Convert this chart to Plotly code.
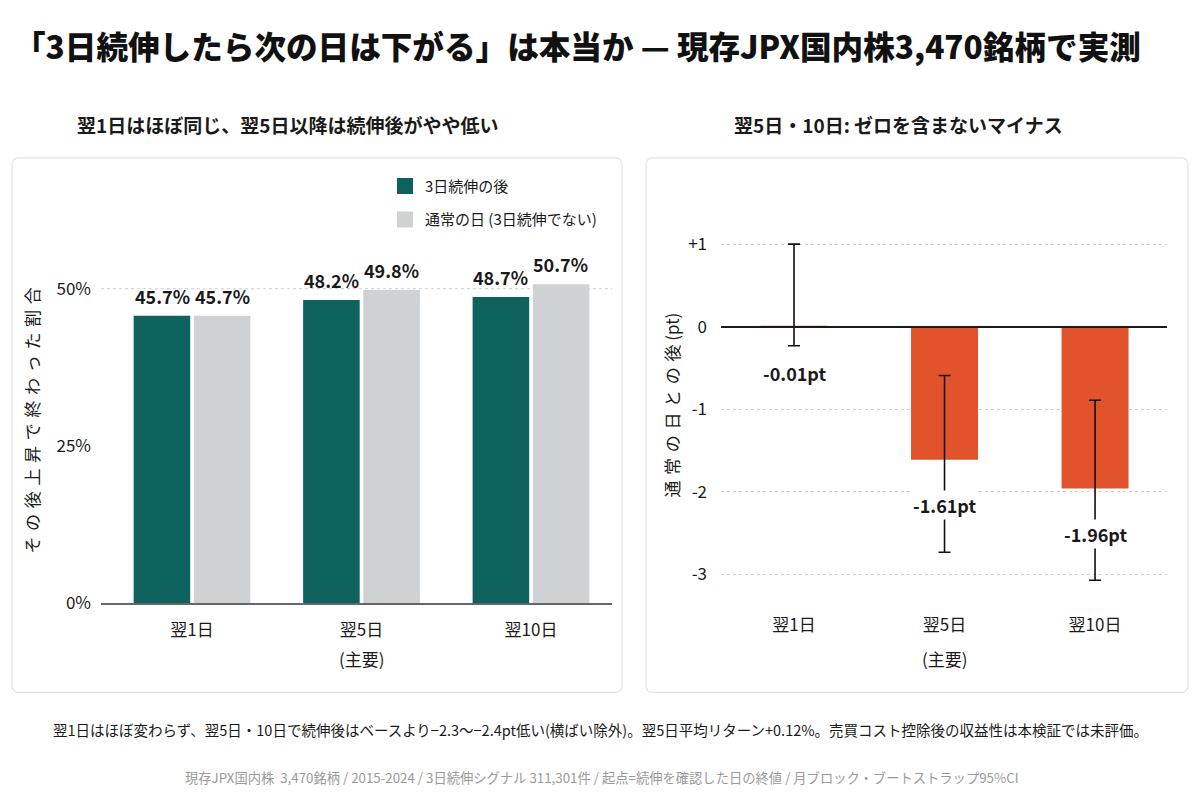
import plotly.graph_objects as go

W, H = 1200, 800
K = 1.013  # vertical calibration

# ---------------- data ----------------
categories = ["翌1日", "翌5日", "翌10日"]
streak_rate = [45.7, 48.2, 48.7]      # 3日続伸の後
normal_rate = [45.7, 49.8, 50.7]      # 通常の日
diff_pt = [-0.01, -1.61, -1.96]       # 差 (pt)
ci_low = [-0.23, -2.73, -3.07]
ci_high = [1.00, -0.59, -0.89]
left_tickvals = [0, 25, 50]
left_ticktext = ["0%", "25%", "50%"]
right_tickvals = [1, 0, -1, -2, -3]
right_ticktext = ["+1", "0", "-1", "-2", "-3"]

FONT = "Noto Sans CJK JP"
TEAL = "#0d625e"
GRAY = "#cfd2d4"
ORANGE = "#e2532b"
INK = "#1a1a1a"


def px(x):
    return x / W


def py(y):
    return 1 - K * y / H


def rounded_rect(x0, y0, x1, y1, r):
    rx, ry = r / W, r / H
    X0, X1 = px(x0), px(x1)
    Y0, Y1 = py(y0), py(y1)
    return (
        f"M {X0+rx},{Y0} L {X1-rx},{Y0} Q {X1},{Y0} {X1},{Y0-ry} "
        f"L {X1},{Y1+ry} Q {X1},{Y1} {X1-rx},{Y1} "
        f"L {X0+rx},{Y1} Q {X0},{Y1} {X0},{Y1+ry} "
        f"L {X0},{Y0-ry} Q {X0},{Y0} {X0+rx},{Y0} Z"
    )


fig = go.Figure()

fig.add_trace(go.Bar(
    x=categories, y=streak_rate, name="3日続伸の後",
    marker=dict(color=TEAL, line=dict(width=0)),
    xaxis="x", yaxis="y", showlegend=False,
))
fig.add_trace(go.Bar(
    x=categories, y=normal_rate, name="通常の日 (3日続伸でない)",
    marker=dict(color=GRAY, line=dict(width=0)),
    xaxis="x", yaxis="y", showlegend=False,
))
# legend proxies (larger square symbols)
for nm, col, grp in (("3日続伸の後", TEAL, "a"), ("通常の日 (3日続伸でない)", GRAY, "b")):
    fig.add_trace(go.Scatter(
        x=[None], y=[None], mode="markers", name=nm, legendgroup=grp,
        marker=dict(symbol="square", size=16, color=col, line=dict(width=0)),
        xaxis="x", yaxis="y", hoverinfo="skip",
    ))

err_plus = [h - v for h, v in zip(ci_high, diff_pt)]
err_minus = [v - l for l, v in zip(ci_low, diff_pt)]
fig.add_trace(go.Bar(
    x=categories, y=diff_pt, width=0.445,
    marker=dict(color=ORANGE, line=dict(width=0)),
    error_y=dict(type="data", symmetric=False, array=err_plus,
                 arrayminus=err_minus, color="#111111", thickness=1.6, width=6),
    xaxis="x2", yaxis="y2", showlegend=False,
))

annotations = []

# left bar labels
for i, c in enumerate(categories):
    for vals, shift in ((streak_rate, -30), (normal_rate, 30)):
        annotations.append(dict(
            x=c, y=vals[i], xref="x", yref="y", xshift=shift, yshift=5,
            yanchor="bottom", showarrow=False, text=f"{vals[i]:.1f}%",
            font=dict(family=FONT, size=18, color=INK, weight="bold"),
        ))

# right value labels
for i, c in enumerate(categories):
    annotations.append(dict(
        x=c, y=diff_pt[i], xref="x2", yref="y2", yshift=-45,
        yanchor="middle", showarrow=False, text=f"{diff_pt[i]:.2f}pt",
        bgcolor="white", borderpad=1,
        font=dict(family=FONT, size=18, color=INK, weight="bold"),
    ))

# (主要) second line
for xr in ("x", "x2"):
    annotations.append(dict(
        x=categories[1], xref=xr, y=py(659), yref="paper", yanchor="middle",
        showarrow=False, text="(主要)", font=dict(family=FONT, size=17, color=INK),
    ))

# title & subtitles
annotations.append(dict(
    x=px(12), y=py(45), xref="paper", yref="paper", xanchor="left", yanchor="middle",
    showarrow=False,
    text="「3日続伸したら次の日は下がる」は本当か — 現存JPX国内株3,470銘柄で実測",
    font=dict(family=FONT, size=31.6, color="#111111", weight=900),
))
annotations.append(dict(
    x=px(287), y=py(125), xref="paper", yref="paper", xanchor="center", yanchor="middle",
    showarrow=False, text="翌1日はほぼ同じ、翌5日以降は続伸後がやや低い",
    font=dict(family=FONT, size=19, color=INK, weight="bold"),
))
annotations.append(dict(
    x=px(898), y=py(125), xref="paper", yref="paper", xanchor="center", yanchor="middle",
    showarrow=False, text="翌5日・10日: ゼロを含まないマイナス",
    font=dict(family=FONT, size=19, color=INK, weight="bold"),
))

# axis titles (rotated)
sp = "\u2004"
annotations.append(dict(
    x=px(32), y=py(421), xref="paper", yref="paper", textangle=-90,
    xanchor="center", yanchor="middle",
    showarrow=False, text=sp.join("その後上昇で終わった割合"),
    font=dict(family=FONT, size=17, color=INK),
))
annotations.append(dict(
    x=px(672), y=py(406), xref="paper", yref="paper", textangle=-90,
    xanchor="center", yanchor="middle",
    showarrow=False, text=sp.join("通常の日との後") + " (pt)",
    font=dict(family=FONT, size=17, color=INK),
))

# footers
annotations.append(dict(
    x=px(600), y=py(730), xref="paper", yref="paper", xanchor="center", yanchor="middle",
    showarrow=False,
    text="翌1日はほぼ変わらず、翌5日・10日で続伸後はベースより−2.3〜−2.4pt低い(横ばい除外)。翌5日平均リターン+0.12%。売買コスト控除後の収益性は本検証では未評価。",
    font=dict(family=FONT, size=14.5, color=INK),
))
annotations.append(dict(
    x=px(602), y=py(778), xref="paper", yref="paper", xanchor="center", yanchor="middle",
    showarrow=False,
    text="現存JPX国内株  3,470銘柄 / 2015-2024 / 3日続伸シグナル 311,301件 / 起点=続伸を確認した日の終値 / 月ブロック・ブートストラップ95%CI",
    font=dict(family=FONT, size=13.3, color="#9a9a9a"),
))

shapes = [
    dict(type="path", xref="paper", yref="paper", layer="below",
         path=rounded_rect(12, 158, 622, 693, 7),
         fillcolor="white", line=dict(color="#e3e3e3", width=1.2)),
    dict(type="path", xref="paper", yref="paper", layer="below",
         path=rounded_rect(646, 158, 1188, 693, 7),
         fillcolor="white", line=dict(color="#e3e3e3", width=1.2)),
    # 50% reference line (left panel)
    dict(type="line", xref="x domain", yref="y", layer="below",
         x0=0, x1=1, y0=left_tickvals[-1], y1=left_tickvals[-1],
         line=dict(color="#cfcfcf", width=1, dash="dot")),
]

tickfont = dict(family=FONT, size=17, color=INK)

fig.update_layout(
    width=W, height=H,
    margin=dict(l=0, r=0, t=0, b=0),
    paper_bgcolor="white", plot_bgcolor="rgba(0,0,0,0)",
    barmode="group", bargap=0.29, bargroupgap=0.06,
    font=dict(family=FONT, color=INK),
    showlegend=True,
    legend=dict(
        x=px(385), y=py(170), xanchor="left", yanchor="top",
        font=dict(family=FONT, size=15, color=INK),
        bgcolor="rgba(0,0,0,0)", tracegroupgap=11, itemwidth=30,
        itemsizing="trace",
    ),
    xaxis=dict(
        domain=[px(101), px(612)], range=[-0.537, 2.478], type="category",
        showgrid=False, zeroline=False, showline=True, linecolor="#666666", linewidth=2,
        ticks="", tickfont=tickfont, ticklabelstandoff=10, fixedrange=True,
    ),
    yaxis=dict(
        domain=[py(604), py(238.6)], range=[0, 58],
        tickvals=left_tickvals, ticktext=left_ticktext,
        showgrid=False, zeroline=False, showline=False, ticks="", tickfont=tickfont,
        ticklabelstandoff=9,
    ),
    xaxis2=dict(
        domain=[px(721), px(1167)], range=[-0.485, 2.478], type="category",
        anchor="y2", showgrid=False, zeroline=False, showline=False,
        ticks="", tickfont=tickfont, ticklabelstandoff=10,
    ),
    yaxis2=dict(
        domain=[py(604), py(203)], range=[-3.35, 1.5], anchor="x2",
        tickvals=right_tickvals, ticktext=right_ticktext,
        showgrid=True, gridcolor="#cfcfcf", griddash="dot", gridwidth=1,
        zeroline=True, zerolinecolor="#1a1a1a", zerolinewidth=1.6,
        showline=False, ticks="", tickfont=tickfont, ticklabelstandoff=13,
    ),
    annotations=annotations,
    shapes=shapes,
)

try:
    fig.update_layout(yaxis2=dict(zerolinelayer="above traces"))
except Exception:
    pass

fig.write_html("out.html")
